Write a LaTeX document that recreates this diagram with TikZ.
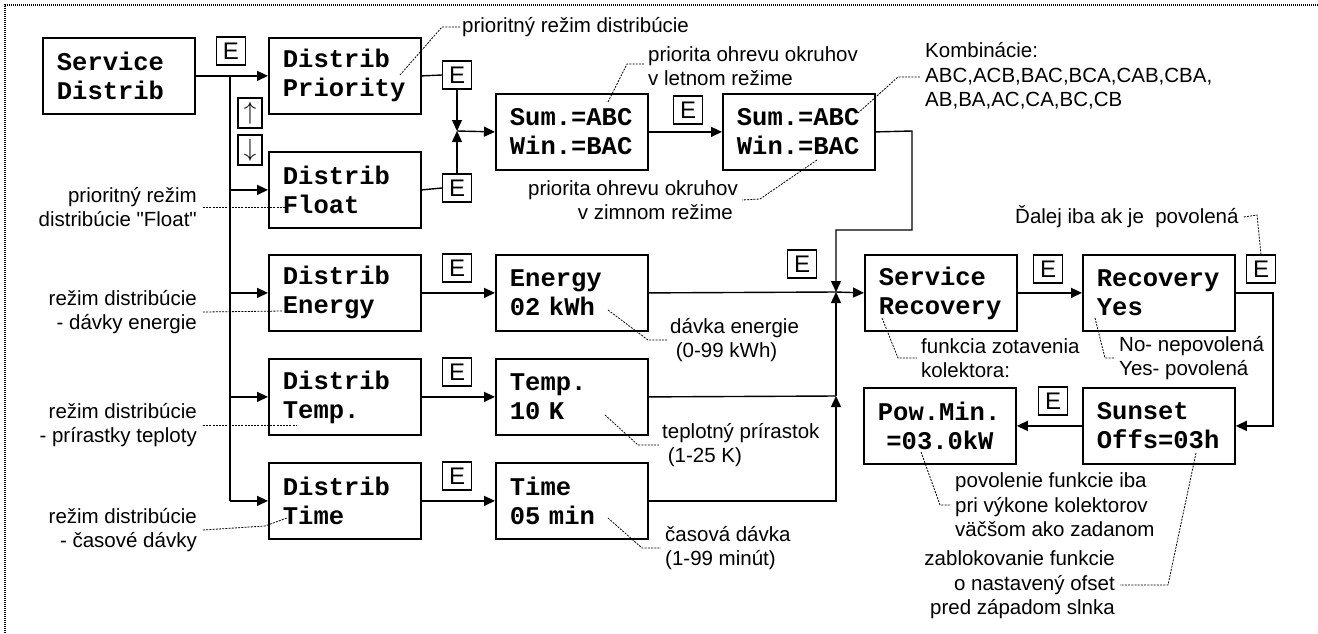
\documentclass[tikz,border=0pt]{standalone}
\usepackage{fontspec}
\setmainfont{Liberation Sans}[Ligatures=TeXOff]
\setmonofont{Liberation Mono}
\usetikzlibrary{arrows.meta}

\tikzset{
  disp/.style={draw, line width=1.8pt, anchor=north west,
    minimum width=152pt, minimum height=76pt,
    text width=124pt, inner xsep=14pt, inner ysep=0pt, align=left,
    font=\ttfamily\bfseries\fontsize{25.5}{29}\selectfont},
  ekey/.style={draw, line width=1.3pt, minimum width=29pt, minimum height=28pt,
    inner sep=0pt, font=\fontsize{24}{24}\selectfont},
  akey/.style={ekey, minimum width=24pt, minimum height=30pt,
    font=\fontsize{25}{25}\selectfont},
  note/.style={inner sep=0pt, font=\fontsize{20.5}{24.5}\selectfont},
  lead/.style={line width=0.8pt, dash pattern=on 2pt off 1.2pt},
  conn/.style={line width=1.4pt},
  arr/.style={conn, -{Triangle[length=11pt,width=10pt]}},
}

\begin{document}
\begin{tikzpicture}[x=1pt, y=-1pt]
  \useasboundingbox (0,0) rectangle (1318,633);
  \draw[line width=1.5pt, dash pattern=on 1pt off 1pt] (1318,5) -- (5,5) -- (5,633);

  % displays
  \node[disp] (sd) at (42,37)   {Service\\Distrib};
  \node[disp] (dp) at (268,37)  {Distrib\\Priority};
  \node[disp] (df) at (268,151) {Distrib\\Float};
  \node[disp] (de) at (268,254) {Distrib\\Energy};
  \node[disp] (dt) at (268,358) {Distrib\\Temp.};
  \node[disp] (dm) at (268,462) {Distrib\\Time};
  \node[disp] (s1) at (495,93)  {Sum.=ABC\\Win.=BAC};
  \node[disp] (s2) at (722,93)  {Sum.=ABC\\Win.=BAC};
  \node[disp] (en) at (495,254) {Energy\\02 kWh};
  \node[disp] (tp) at (495,358) {Temp.\\10 K};
  \node[disp] (tm) at (495,462) {Time\\05 min};
  \node[disp] (sr) at (864,254) {Service\\Recovery};
  \node[disp] (ry) at (1082,254) {Recovery\\Yes};
  \node[disp] (ss) at (1082,387) {Sunset\\Offs=03h};
  \node[disp] (pm) at (863,387) {Pow.Min.\\\mbox{ }=03.0kW};

  % keys
  \node[ekey] (e0) at (231,51)  {E};
  \node[ekey] (e1) at (457,75)  {E};
  \node[ekey] (e2) at (457,188) {E};
  \node[ekey] (e3) at (688,110) {E};
  \node[ekey] (e4) at (457,268) {E};
  \node[ekey] (e5) at (457,372) {E};
  \node[ekey] (e6) at (457,476) {E};
  \node[ekey] (e7) at (802,264) {E};
  \node[ekey] (e8) at (1048,269) {E};
  \node[ekey] (e9) at (1261,269) {E};
  \node[ekey] (e10) at (1053,401) {E};
  \node[akey] (up) at (250,113) {$\uparrow$};
  \node[akey] (dn) at (250,150) {$\downarrow$};

  % connections
  \coordinate (bus) at (230,75);
  \coordinate (j1) at (457,131);
  \coordinate (j2) at (836,292);
  \coordinate (j3) at (836,396);
  \draw[arr] (sd.east) -- (dp.west);
  \draw[conn] (bus) -- (bus |- dm.west);
  \foreach \n in {df,de,dt,dm}
    \draw[arr] (bus |- \n.west) -- (\n.west);
  \draw[conn] (dp.east) -- (e1.west);
  \draw[conn] (df.east) -- (e2.west);
  \draw[arr] (e1.south) -- (j1);
  \draw[arr] (e2.north) -- (j1);
  \draw[arr] (j1) -- (s1.west);
  \draw[arr] (s1.east) -- (s2.west);
  \draw[arr] (de.east) -- (en.west);
  \draw[arr] (dt.east) -- (tp.west);
  \draw[arr] (dm.east) -- (tm.west);
  \draw[arr] (s2.east) -- (912,131) -- (912,230) -- (836,230) -- (j2);
  \draw[conn] (en.east) -- (j2);
  \draw[conn] (tp.east) -- (j3);
  \draw[arr] (tm.east) -- (tm.east -| j3) -- (j3);
  \draw[arr] (j3) -- (j2);
  \draw[arr] (j2) -- (sr.west);
  \draw[arr] (sr.east) -- (ry.west);
  \draw[arr] (ry.east) -- ++(37,0) |- (ss.east);
  \draw[arr] (ss.west) -- (pm.east);

  % notes
  \node[note, anchor=west] (nTop) at (462,27) {prioritný režim distribúcie};
  \node[note, anchor=west, align=left] (nS1) at (648,66) {priorita ohrevu okruhov\\v letnom režime};
  \node[note, anchor=east, align=right] (nS2) at (738,200) {priorita ohrevu okruhov\\v zimnom režime\kern5pt};
  \node[note, anchor=west, align=left] (nKomb) at (925,76) {Kombinácie:\\ABC,ACB,BAC,BCA,CAB,CBA,\\AB,BA,AC,CA,BC,CB};
  \node[note, anchor=east, align=right] (nFl) at (197,207) {prioritný režim\\distribúcie "Float"};
  \node[note, anchor=east, align=right] (nDe) at (197,312) {režim distribúcie\\- dávky energie};
  \node[note, anchor=east, align=right] (nDt) at (197,425) {režim distribúcie\\- prírastky teploty};
  \node[note, anchor=east, align=right] (nDm) at (197,530) {režim distribúcie\\- časové dávky};
  \node[note, anchor=west, align=left] (nEn) at (670,340) {dávka energie\\\hspace*{5.7pt}(0-99 kWh)};
  \node[note, anchor=west, align=left] (nTp) at (662,445) {teplotný prírastok\\\hspace*{5.7pt}(1-25 K)};
  \node[note, anchor=west, align=left] (nTm) at (665,548) {časová dávka\\(1-99 minút)};
  \node[note, anchor=west, align=left] (nSr) at (921,358) {funkcia zotavenia\\kolektora:};
  \node[note, anchor=west, align=left] (nRy) at (1119,358) {No- nepovolená\\Yes- povolená};
  \node[note, anchor=west, align=left] (nPm) at (955,505) {povolenie funkcie iba\\pri výkone kolektorov\\väčšom ako zadanom};
  \node[note, anchor=east, align=right] (nSs) at (1115,585) {zablokovanie funkcie\\o nastavený ofset\\pred západom slnka};
  \node[note, anchor=west] (nDal) at (1015,217) {Ďalej iba ak je\ \ povolená};

  % leaders
  \draw[lead] (400,75) -- (442,27) -- ([xshift=-2pt]nTop.west);
  \draw[lead] (608,102) -- (627,64) -- (645,64);
  \draw[lead] (817,160) -- (760,199) -- ([xshift=4pt]nS2.east);
  \draw[lead] (858,113) -- (898,77) -- (920,77);
  \draw[lead] ([xshift=6pt]nFl.east) -- (285,207);
  \draw[lead] ([xshift=6pt]nDe.east) -- (283,311);
  \draw[lead] ([xshift=6pt]nDt.east) -- (297,425);
  \draw[lead] ([xshift=6pt]nDm.east) -- (265,526) -- (287,518);
  \draw[lead] (608,310) -- (648,340) -- ([xshift=-3pt]nEn.west);
  \draw[lead] (605,415) -- (638,445) -- ([xshift=-3pt]nTp.west);
  \draw[lead] (608,518) -- (642,548) -- ([xshift=-4pt]nTm.west);
  \draw[lead] (882,318) -- (898,358) -- ([xshift=-4pt]nSr.west);
  \draw[lead] (1095,318) -- (1105,358) -- ([xshift=-4pt]nRy.west);
  \draw[lead] (921,452) -- (940,505) -- ([xshift=-4pt]nPm.west);
  \draw[lead] (1196,453) -- (1168,585) -- ([xshift=5pt]nSs.east);
  \draw[lead] ([xshift=5pt]nDal.east) -- (1257,215) -- (e9.north);
\end{tikzpicture}
\end{document}
